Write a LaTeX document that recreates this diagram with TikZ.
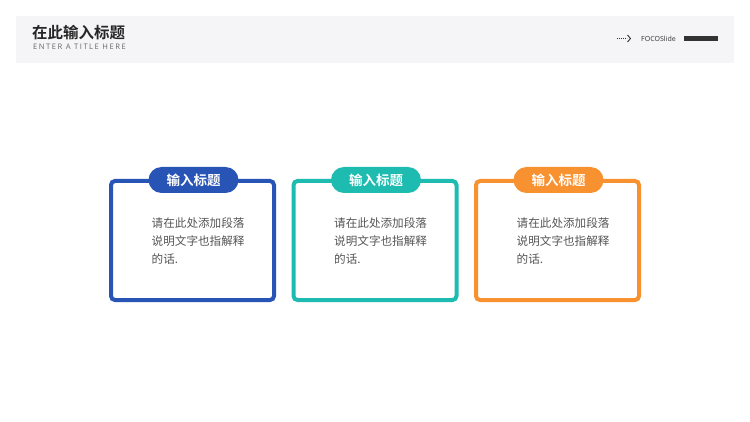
\documentclass[tikz,border=0pt]{standalone}
\usepackage{fontspec}
\setmainfont{Noto Sans}
\newfontfamily\cjk{Noto Sans CJK SC}
\newfontfamily\cjkb{Noto Sans CJK SC Bold}
\newfontfamily\subfont[LetterSpace=20]{Open Sans}
\definecolor{cblue}{HTML}{2754B5}
\definecolor{cteal}{HTML}{1EBBB0}
\definecolor{corange}{HTML}{F8912F}
\definecolor{hdrbg}{HTML}{F5F5F7}
\definecolor{bodytxt}{HTML}{555555}
\begin{document}
\begin{tikzpicture}[x=1pt,y=-1pt,
  cardbox/.style={line width=4pt,rounded corners=4pt},
  pill/.style={rounded corners=13pt,minimum width=90pt,minimum height=26pt,inner sep=0pt,text=white,font=\cjkb\fontsize{13.5}{15}\selectfont},
  bodytext/.style={anchor=north west,align=left,inner sep=0pt,text=bodytxt,font=\cjk\fontsize{11.6}{18}\selectfont}
]
\useasboundingbox (0,0) rectangle (750,422);
\fill[white] (0,0) rectangle (750,422);
% header
\fill[hdrbg] (16,16) rectangle (734,63);
\node[anchor=west,inner sep=0pt,text=black!85] (title) at (32,32.5) {\cjkb\fontsize{15.5}{17}\selectfont 在此输入标题};
\node[anchor=west,inner sep=0pt,text=black!60] (subtitle) at (33,46.5) {\subfont\fontsize{7.6}{9}\selectfont ENTER A TITLE HERE};
\coordinate (arA) at (617,38.5);
\coordinate (arB) at (627,38.5);
\draw[black!80,line width=0.8pt,dash pattern=on 0.8pt off 1.2pt] (arA) -- (arB);
\draw[black!80,line width=0.9pt] (627.5,35) -- (630.5,38.5) -- (627.5,42);
\node[anchor=west,inner sep=0pt,text=black!75] (brand) at (641,38.5) {\fontsize{7}{8}\selectfont FOCOSlide};
\fill[black!80] (684,36) rectangle (718,41);
% cards
\foreach \i/\x/\c in {1/111/cblue,2/293.5/cteal,3/476/corange}{
  \draw[cardbox,draw=\c] (\x,181) rectangle (\x+163,300);
  \node[pill,fill=\c] (pill\i) at (\x+82.5,180) {输入标题};
  \node[bodytext] (body\i) at (\x+40.5,217) {请在此处添加段落\\说明文字也指解释\\的话.};
}
\end{tikzpicture}
\end{document}
